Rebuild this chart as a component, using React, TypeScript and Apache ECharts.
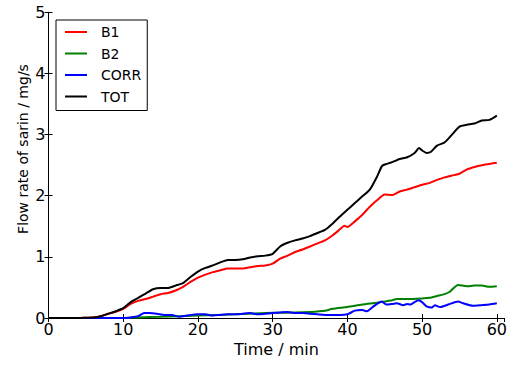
import React, { useEffect, useRef } from "react";
import * as echarts from "echarts";

const seriesNames = ["B1", "B2", "CORR", "TOT"];
const seriesColors = ["#ff0000", "#008000", "#0000ff", "#000000"];

const tB1 = [0, 2, 4, 5, 6, 7, 8, 9, 10, 11, 12, 13, 14, 15, 16, 17, 18, 19, 20, 21, 22, 23, 24, 25, 26, 27, 28, 29, 30, 31, 32, 33, 34, 35, 36, 37, 38, 39, 39.6, 40, 41, 42, 43, 44, 45, 46, 47, 48, 49, 50, 51, 52, 53, 54, 55, 56, 57, 58, 59, 60];
const vB1 = [0, 0, 0, 0.005, 0.01, 0.03, 0.07, 0.1, 0.15, 0.23, 0.28, 0.31, 0.35, 0.39, 0.41, 0.45, 0.51, 0.59, 0.66, 0.71, 0.75, 0.78, 0.81, 0.81, 0.81, 0.83, 0.85, 0.86, 0.89, 0.97, 1.02, 1.08, 1.12, 1.17, 1.22, 1.27, 1.35, 1.45, 1.51, 1.49, 1.58, 1.69, 1.82, 1.93, 2.02, 2.01, 2.07, 2.1, 2.14, 2.18, 2.21, 2.26, 2.3, 2.33, 2.36, 2.43, 2.47, 2.5, 2.52, 2.54];

const tB2 = [0, 10, 12, 15, 20, 25, 30, 33, 35, 37, 38, 40, 42, 44, 45, 46, 46.6, 48, 50, 51, 52, 53, 53.7, 54.8, 56, 57, 58, 59, 60];
const vB2 = [0, 0, 0.01, 0.02, 0.04, 0.06, 0.085, 0.09, 0.1, 0.12, 0.15, 0.18, 0.22, 0.25, 0.27, 0.29, 0.31, 0.31, 0.32, 0.33, 0.36, 0.39, 0.43, 0.54, 0.52, 0.53, 0.53, 0.51, 0.52];

const tCorr = [0, 10, 11, 12, 12.8, 13.5, 14.5, 15.5, 16.5, 17.5, 18.5, 20, 21, 22, 23, 24, 25, 26, 27, 28, 29, 30, 31, 32, 33, 34, 35, 36, 37, 38, 39, 40, 41, 42, 42.6, 43.5, 44.6, 45.2, 46, 46.6, 47.5, 48, 48.4, 49, 49.5, 50, 50.6, 51.3, 51.7, 52.4, 53.5, 54.8, 55.5, 56.8, 58, 59, 60];
const vCorr = [0, 0, 0.01, 0.03, 0.08, 0.08, 0.07, 0.05, 0.05, 0.02, 0.04, 0.06, 0.06, 0.04, 0.05, 0.06, 0.06, 0.07, 0.08, 0.06, 0.07, 0.08, 0.09, 0.1, 0.08, 0.08, 0.07, 0.06, 0.05, 0.05, 0.05, 0.06, 0.12, 0.13, 0.11, 0.19, 0.27, 0.22, 0.23, 0.24, 0.21, 0.23, 0.22, 0.26, 0.29, 0.26, 0.19, 0.17, 0.21, 0.18, 0.22, 0.27, 0.24, 0.2, 0.21, 0.22, 0.24];

const tTot = [0, 2, 4, 5, 6, 7, 8, 9, 10, 11, 12, 13, 14, 15, 16, 17, 18, 19, 20, 21, 22, 23, 24, 25, 26, 27, 28, 29, 30, 31, 32, 33, 34, 35, 36, 37, 38, 39, 40, 41, 42, 43, 44, 44.6, 45, 46, 47, 48, 49, 49.6, 50, 50.6, 51.2, 52, 53, 54, 55, 56, 57, 58, 59, 60];
const vTot = [0, 0, 0, 0.005, 0.01, 0.03, 0.07, 0.11, 0.16, 0.26, 0.33, 0.4, 0.47, 0.49, 0.49, 0.53, 0.57, 0.67, 0.76, 0.82, 0.86, 0.91, 0.95, 0.95, 0.96, 0.99, 1.01, 1.02, 1.05, 1.17, 1.23, 1.27, 1.3, 1.34, 1.39, 1.44, 1.54, 1.66, 1.77, 1.88, 1.99, 2.1, 2.32, 2.48, 2.51, 2.55, 2.6, 2.63, 2.7, 2.78, 2.74, 2.7, 2.72, 2.82, 2.87, 3.0, 3.13, 3.16, 3.18, 3.23, 3.24, 3.31];

const xTicks = [0, 10, 20, 30, 40, 50, 60];
const yTicks = [0, 1, 2, 3, 4, 5];
const xTitle = "Time / min";
const yTitle = "Flow rate of sarin / mg/s";

const FONT = "DejaVu Sans";

export default function App() {
  const ref = useRef<HTMLDivElement>(null);
  useEffect(() => {
    if (!ref.current) return;
    const chart = echarts.init(ref.current, null, { renderer: "svg" });
    const times = [tB1, tB2, tCorr, tTot];
    const vals = [vB1, vB2, vCorr, vTot];
    const axisCommon = {
      type: "value" as const,
      axisLine: { show: true, lineStyle: { color: "#000", width: 1 } },
      axisTick: { show: true, inside: true, length: 4, lineStyle: { color: "#000" } },
      splitLine: { show: false },
    };
    chart.setOption({
      animation: false,
      backgroundColor: "#fff",
      grid: { left: 48.5, right: 7.7, top: 12.3, bottom: 47, containLabel: false },
      legend: {
        orient: "vertical",
        left: 56,
        top: 20,
        data: seriesNames,
        icon: "rect",
        itemWidth: 22,
        itemHeight: 2,
        itemGap: 5.5,
        padding: [4, 6, 6, 9],
        borderColor: "#000",
        borderWidth: 1,
        backgroundColor: "#fff",
        textStyle: { fontFamily: FONT, fontSize: 14, color: "#000", lineHeight: 16, padding: [0, 0, 0, 9] },
      },
      graphic: [
        {
          type: "text",
          x: 23,
          y: 149,
          rotation: Math.PI / 2,
          style: {
            text: yTitle,
            fontFamily: FONT,
            fontSize: 14,
            fill: "#000",
            align: "center",
            verticalAlign: "middle",
          },
        },
      ],
      xAxis: [
        {
          ...axisCommon,
          position: "bottom",
          min: 0,
          max: 61,
          interval: 10,
          name: xTitle,
          nameLocation: "middle",
          nameGap: 21,
          nameTextStyle: { fontFamily: FONT, fontSize: 16, color: "#000" },
          axisLabel: {
            fontFamily: FONT,
            fontSize: 16,
            color: "#000",
            margin: 3,
            showMaxLabel: false,
            formatter: (v: number) => (xTicks.includes(v) ? String(v) : ""),
          },
        },
        {
          ...axisCommon,
          position: "top",
          min: 0,
          max: 61,
          interval: 10,
          axisLabel: { show: false },
        },
      ],
      yAxis: [
        {
          ...axisCommon,
          position: "left",
          min: 0,
          max: 5,
          interval: 1,
          axisLabel: {
            fontFamily: FONT,
            fontSize: 16,
            color: "#000",
            margin: 3,
            formatter: (v: number) => (yTicks.includes(v) ? String(v) : ""),
          },
        },
        {
          ...axisCommon,
          position: "right",
          min: 0,
          max: 5,
          interval: 1,
          axisLabel: { show: false },
        },
      ],
      series: seriesNames.map((name, i) => ({
        name,
        type: "line",
        xAxisIndex: 0,
        yAxisIndex: 0,
        data: times[i].map((t, j) => [t, vals[i][j]]),
        showSymbol: false,
        symbol: "none",
        smooth: 0.2,
        color: seriesColors[i],
        lineStyle: { color: seriesColors[i], width: 2 },
        z: 2 + i,
      })),
    });
    return () => chart.dispose();
  }, []);
  return <div ref={ref} style={{ width: 512, height: 365, position: "absolute", left: 0, top: 0 }} />;
}
